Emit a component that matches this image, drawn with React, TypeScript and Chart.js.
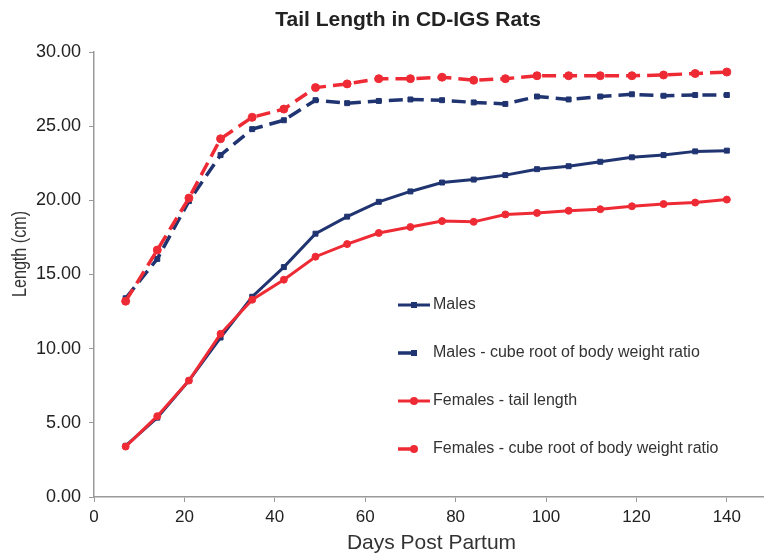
import React, { useEffect, useRef } from "react";
import { Chart, registerables } from "chart.js";

Chart.register(...registerables);

const days = [7, 14, 21, 28, 35, 42, 49, 56, 63, 70, 77, 84, 91, 98, 105, 112, 119, 126, 133, 140];
const males = [3.45, 5.35, 7.85, 10.75, 13.5, 15.5, 17.75, 18.9, 19.9, 20.6, 21.2, 21.4, 21.7, 22.1, 22.3, 22.6, 22.9, 23.05, 23.3, 23.35];
const malesCubeRoot = [13.4, 16.05, 19.95, 23.05, 24.8, 25.4, 26.75, 26.55, 26.7, 26.8, 26.75, 26.6, 26.5, 27.0, 26.8, 27.0, 27.15, 27.05, 27.1, 27.1];
const females = [3.4, 5.45, 7.85, 11.0, 13.3, 14.65, 16.2, 17.05, 17.8, 18.2, 18.6, 18.55, 19.05, 19.15, 19.3, 19.4, 19.6, 19.75, 19.85, 20.05];
const femalesCubeRoot = [13.2, 16.65, 20.15, 24.15, 25.6, 26.15, 27.6, 27.85, 28.2, 28.2, 28.3, 28.1, 28.2, 28.4, 28.4, 28.4, 28.4, 28.45, 28.55, 28.65];

const seriesNames = [
  "Males",
  "Males - cube root of body weight ratio",
  "Females - tail length",
  "Females - cube root of body weight ratio",
];
const chartTitle = "Tail Length in CD-IGS Rats";
const xTitle = "Days Post Partum";
const yTitle = "Length (cm)";

const NAVY = "#1f3470";
const RED = "#ee2b35";
const FONT = "'Liberation Sans', Arial, sans-serif";
const DASH = [14, 7];

const toPoints = (ys: number[]) => days.map((d, i) => ({ x: d, y: ys[i] }));

const overlayPlugin = {
  id: "overlay",
  afterDraw(chart: any) {
    const ctx = chart.ctx;
    const area = chart.chartArea;
    ctx.save();
    // title
    ctx.fillStyle = "#222";
    ctx.font = `bold 21px ${FONT}`;
    ctx.textAlign = "center";
    ctx.textBaseline = "middle";
    ctx.fillText(chartTitle, 408, 20);
    // x title
    ctx.fillStyle = "#333";
    ctx.font = `21px ${FONT}`;
    ctx.fillText(xTitle, (area.left + area.right) / 2 + 3, 543, 170);
    // y title
    ctx.save();
    ctx.translate(20, 254);
    ctx.rotate(-Math.PI / 2);
    ctx.font = `21px ${FONT}`;
    ctx.fillText(yTitle, 0, 0, 86);
    ctx.restore();

    // legend
    const lx = 398;
    const ys = [305, 353, 401, 449];
    [0, 1, 2, 3].forEach((i) => {
      const ds = chart.data.datasets[i];
      const y = ys[i];
      const dashed = !!ds.borderDash && ds.borderDash.length > 0;
      ctx.strokeStyle = ds.borderColor;
      ctx.lineWidth = ds.borderWidth;
      ctx.setLineDash([]);
      ctx.beginPath();
      ctx.moveTo(lx, y);
      ctx.lineTo(lx + (dashed ? 19 : 32), y);
      ctx.stroke();
      const mx = lx + 16;
      ctx.fillStyle = ds.borderColor;
      if (ds.pointStyle === "rect") {
        ctx.fillRect(mx - 3, y - 3, 6, 6);
      } else {
        ctx.beginPath();
        ctx.arc(mx, y, 4, 0, Math.PI * 2);
        ctx.fill();
      }
      ctx.fillStyle = "#333";
      ctx.font = `16px ${FONT}`;
      ctx.textAlign = "left";
      ctx.textBaseline = "middle";
      ctx.fillText(ds.label, 433, y);
    });
    ctx.restore();
  },
};

export default function App() {
  const ref = useRef<HTMLCanvasElement | null>(null);
  useEffect(() => {
    document.body.style.margin = "0";
    if (!ref.current) return;
    const chart = new Chart(ref.current, {
      type: "line",
      data: {
        datasets: [
          {
            label: seriesNames[0],
            data: toPoints(males),
            borderColor: NAVY,
            backgroundColor: NAVY,
            borderWidth: 3,
            pointStyle: "rect",
            pointRadius: 3.5,
            pointBorderWidth: 1,
            order: 4,
          },
          {
            label: seriesNames[1],
            data: toPoints(malesCubeRoot),
            borderColor: NAVY,
            backgroundColor: NAVY,
            borderWidth: 3.5,
            borderDash: DASH,
            pointStyle: "rect",
            pointRadius: 3.5,
            pointBorderWidth: 1,
            order: 3,
          },
          {
            label: seriesNames[2],
            data: toPoints(females),
            borderColor: RED,
            backgroundColor: RED,
            borderWidth: 3,
            pointStyle: "circle",
            pointRadius: 3.5,
            pointBorderWidth: 1,
            order: 2,
          },
          {
            label: seriesNames[3],
            data: toPoints(femalesCubeRoot),
            borderColor: RED,
            backgroundColor: RED,
            borderWidth: 3.5,
            borderDash: DASH,
            pointStyle: "circle",
            pointRadius: 4,
            pointBorderWidth: 1,
            order: 1,
          },
        ],
      },
      options: {
        responsive: false,
        animation: false,
        layout: { padding: { top: 52, left: 0, right: 0, bottom: 0 } },
        plugins: {
          legend: { display: false },
          title: { display: false },
          tooltip: { enabled: false },
        },
        scales: {
          x: {
            type: "linear",
            min: 0,
            max: 148,
            ticks: {
              stepSize: 20,
              includeBounds: false,
              color: "#222",
              font: { family: FONT, size: 17 },
              padding: 5,
            },
            grid: { drawOnChartArea: false, drawTicks: true, tickLength: 5, color: "#9a9a9a" },
            border: { color: "#9a9a9a", width: 1.5 },
            afterFit: (scale: any) => {
              scale.height = 57;
            },
          },
          y: {
            min: 0,
            max: 30,
            ticks: {
              stepSize: 5,
              color: "#222",
              font: { family: FONT, size: 18 },
              padding: 8,
              callback: (v: any) => Number(v).toFixed(2),
            },
            grid: { drawOnChartArea: false, drawTicks: true, tickLength: 5, color: "#9a9a9a" },
            border: { color: "#9a9a9a", width: 1.5 },
            afterFit: (scale: any) => {
              scale.width = 94;
            },
          },
        },
      },
      plugins: [overlayPlugin],
    });
    return () => chart.destroy();
  }, []);
  return (
    <div style={{ position: "absolute", left: 0, top: 0, width: 768, height: 554 }}>
      <canvas ref={ref} width={768} height={554} style={{ display: "block" }} />
    </div>
  );
}
